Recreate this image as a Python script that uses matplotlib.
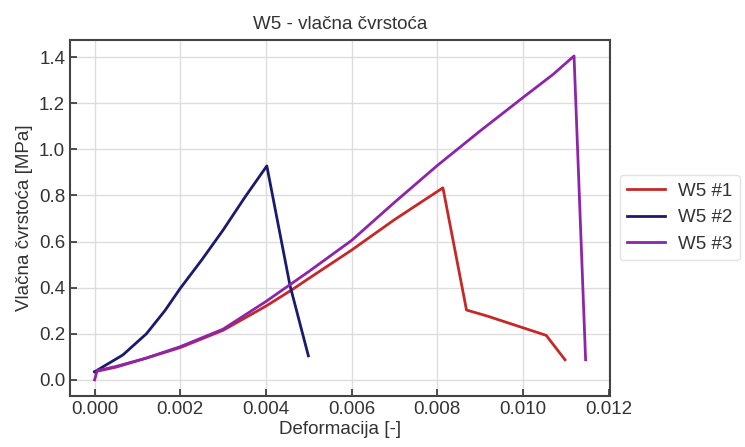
import matplotlib
matplotlib.use('Agg')
import matplotlib.pyplot as plt

plt.rcParams['font.family'] = ['Liberation Sans', 'DejaVu Sans']

# W5 #1
strain_1 = [0.0, 0.0005, 0.0012, 0.002, 0.003, 0.004, 0.0046, 0.005, 0.006, 0.007,
            0.00813, 0.00868, 0.00916, 0.01054, 0.01098]
stress_1 = [0.035, 0.055, 0.094, 0.14, 0.215, 0.32, 0.39, 0.44, 0.563, 0.695,
            0.833, 0.303, 0.277, 0.193, 0.087]

# W5 #2
strain_2 = [0.0, 0.00066, 0.00121, 0.00164, 0.002, 0.0025, 0.003, 0.0035, 0.00402,
            0.00456, 0.00499]
stress_2 = [0.035, 0.108, 0.2, 0.30, 0.397, 0.52, 0.65, 0.79, 0.928, 0.41, 0.104]

# W5 #3
strain_3 = [0.0, 0.00006, 0.0005, 0.0012, 0.002, 0.003, 0.004, 0.0045, 0.005, 0.006,
            0.007, 0.008, 0.009, 0.010, 0.0107, 0.01119, 0.01146]
stress_3 = [0.0, 0.04, 0.058, 0.094, 0.144, 0.22, 0.34, 0.405, 0.47, 0.605,
            0.77, 0.93, 1.08, 1.225, 1.325, 1.405, 0.087]

series = [
    ('W5 #1', strain_1, stress_1, '#C62828'),
    ('W5 #2', strain_2, stress_2, '#1A1A6E'),
    ('W5 #3', strain_3, stress_3, '#8E24AA'),
]

text_color = '#333333'
fig = plt.figure(figsize=(7.45, 4.47), dpi=100)
ax = fig.add_axes([0.094, 0.114, 0.725, 0.797])

for label, x, y, color in series:
    ax.plot(x, y, color=color, linewidth=2.0, label=label)

ax.set_title('W5 - vlačna čvrstoća', fontsize=13.5, color=text_color, pad=8)
ax.set_xlabel('Deformacija [-]', fontsize=13.5, color=text_color, labelpad=2)
ax.set_ylabel('Vlačna čvrstoća [MPa]', fontsize=13.5, color=text_color, labelpad=4)

ax.grid(True, color='#dddddd', linewidth=1.0)
ax.set_axisbelow(True)
ax.tick_params(direction='in', length=5, width=1.2, labelsize=13.5,
               labelcolor=text_color, color='#333333')
for sp in ax.spines.values():
    sp.set_color('#444444')
    sp.set_linewidth(1.5)

ax.legend(loc='center left', bbox_to_anchor=(1.0, 0.5), fontsize=13.5,
          frameon=True, edgecolor='#dddddd', labelcolor=text_color,
          borderaxespad=0.5, handletextpad=0.7)

fig.savefig('out.png', dpi=100)
